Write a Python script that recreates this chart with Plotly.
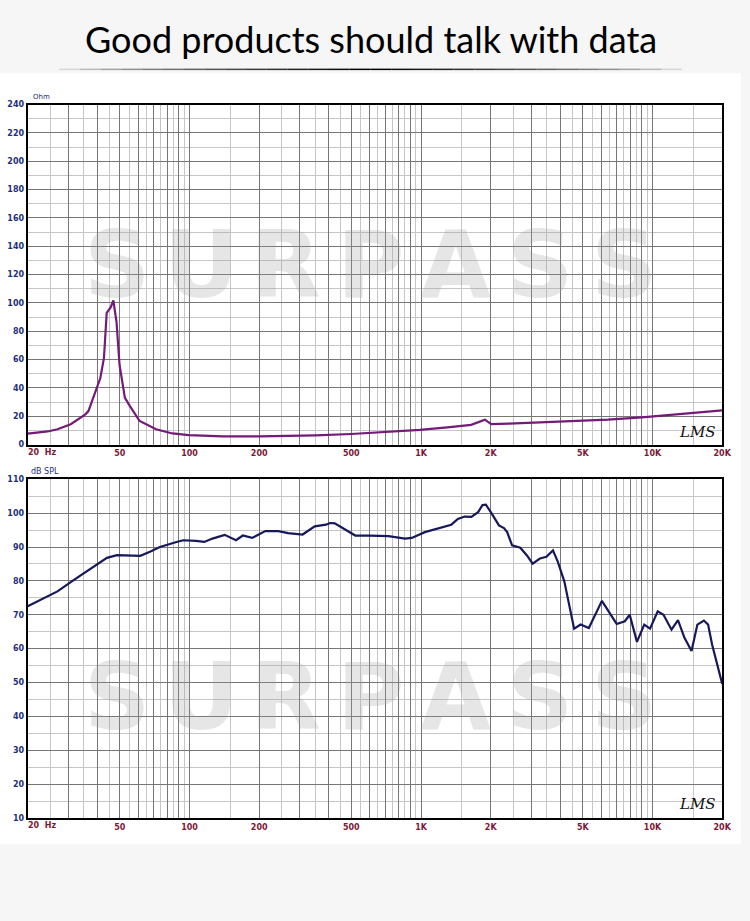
import numpy as np
import plotly.graph_objects as go

# ---------------- data ----------------
imp_freq = [20, 24.4, 26.9, 30.7, 35.5, 36.6, 41.2, 42.7, 43.9, 45.7, 46.9, 48.4, 49.9,
            52.6, 55.3, 60.9, 71.7, 84.4, 99.4, 139, 200, 272, 350, 500, 700, 988,
            1300, 1646, 1888, 2010, 2400, 3250, 4500, 6415, 9000, 12660, 20000]
imp_ohm = [7.8, 9.3, 10.9, 14.4, 21.4, 23.7, 47, 61, 93, 97, 101.7, 86.5, 56,
           33, 27.2, 16.7, 10.9, 7.9, 6.7, 5.9, 5.8, 5.9, 6.5, 7.5, 8.8, 10.4,
           12.2, 14.0, 17.6, 14.5, 14.8, 15.7, 16.6, 17.6, 19.3, 21.2, 24.2]

spl_freq = [20, 22.9, 26.9, 31.7, 37.4, 44, 48.6, 51.9, 61.3, 67.5, 74.5, 87.9, 93.9,
            106.7, 115.9, 125.6, 141.9, 158.9, 169.9, 186.4, 212.5, 242, 266.6, 308,
            347.5, 388.5, 405, 424, 452, 520, 600, 724, 853, 912, 1039, 1224, 1351,
            1443, 1544, 1650, 1764, 1843, 1906, 2002, 2171, 2281, 2356, 2474, 2684,
            2862, 3036, 3262, 3480, 3715, 3900, 4161, 4370, 4585, 4889, 5308, 6043,
            6553, 7000, 7593, 7970, 8565, 9210, 9756, 10530, 11150, 12080, 12880,
            13740, 14740, 15620, 16670, 17380, 18070, 20000]
spl_db = [72.5, 74.4, 76.9, 80.3, 83.7, 86.8, 87.6, 87.6, 87.4, 88.6, 90.0, 91.5, 92.0,
          91.8, 91.5, 92.5, 93.6, 92.0, 93.4, 92.7, 94.7, 94.7, 94.1, 93.7,
          96.1, 96.6, 97.1, 97.0, 95.9, 93.4, 93.4, 93.2, 92.5, 92.7, 94.4, 95.9, 96.6,
          98.3, 99.0, 98.9, 100.3, 102.4, 102.5, 100.3, 96.4, 95.6, 94.4, 90.5, 89.8,
          87.6, 85.1, 86.6, 87.1, 89.0, 85.6, 79.8, 72.9, 65.9, 67.1, 66.1, 74.1,
          70.5, 67.3, 68.1, 70.0, 62.0, 67.1, 65.9, 71.0, 70.0, 65.6, 68.4,
          63.2, 59.3, 67.1, 68.3, 67.1, 61.3, 49.6]

freq_major = [20, 30, 40, 50, 60, 70, 80, 90, 100, 200, 300, 400, 500, 600, 700, 800, 900,
              1000, 2000, 3000, 4000, 5000, 6000, 7000, 8000, 9000, 10000, 20000]
freq_minor = [25, 35, 45, 55, 65, 75, 85, 95, 150, 250, 350, 450, 550, 650, 750, 850, 950,
              1500, 2500, 3500, 4500, 5500, 6500, 7500, 8500, 9500, 15000]
freq_labels = {50: "50", 100: "100", 200: "200", 500: "500", 1000: "1K", 2000: "2K",
               5000: "5K", 10000: "10K", 20000: "20K"}

imp_ticks = list(range(0, 241, 20))
imp_minor = list(range(10, 240, 20))
spl_ticks = list(range(10, 111, 10))
spl_minor = list(range(15, 110, 10))

title_text = "Good products should talk with data"
watermark_text = "SURPASS"

# ---------------- layout helpers ----------------
W, H = 750, 921
def px(x):
    return x / W
def py(y):
    return 1 - y / H

XL, XR = 28, 731
UT, UB = 101.5, 445
LT, LB = 480, 822

MAJ = "#767676"
MIN = "#c6c6c6"
YLAB = "#1d2f7c"
XLAB = "#7d1838"

fig = go.Figure()
fig.add_trace(go.Scatter(x=imp_freq, y=imp_ohm, mode="lines", xaxis="x", yaxis="y",
                         line=dict(color="#741a78", width=2.2), hoverinfo="skip",
                         showlegend=False))
fig.add_trace(go.Scatter(x=spl_freq, y=spl_db, mode="lines", xaxis="x2", yaxis="y2",
                         line=dict(color="#17175c", width=2.2), hoverinfo="skip",
                         showlegend=False))

tickfont_x = dict(family="DejaVu Sans", size=8, color=XLAB, weight="bold")
tickfont_y = dict(family="DejaVu Sans", size=8, color=YLAB, weight="bold")

def xaxis_cfg(anchor):
    return dict(type="log", range=[np.log10(20) - 1e-5, np.log10(20000) + 1e-5],
                domain=[px(XL), px(XR)], anchor=anchor,
                tickmode="array", tickvals=freq_major,
                ticktext=[freq_labels.get(f, "") for f in freq_major],
                showgrid=True, gridcolor=MAJ, gridwidth=1,
                minor=dict(tickmode="array", tickvals=freq_minor, showgrid=True,
                           gridcolor=MIN, gridwidth=1, ticks=""),
                ticks="", showline=True, mirror=True, linecolor="black", linewidth=2,
                tickfont=tickfont_x, zeroline=False, fixedrange=True)

def yaxis_cfg(anchor, rng, ticks, minor, dom):
    return dict(range=rng, domain=dom, anchor=anchor, tickmode="array", tickvals=ticks,
                showgrid=True, gridcolor=MAJ, gridwidth=1,
                minor=dict(tickmode="array", tickvals=minor, showgrid=True,
                           gridcolor=MIN, gridwidth=1, ticks=""),
                ticks="", showline=True, mirror=True, linecolor="black", linewidth=2,
                tickfont=tickfont_y, zeroline=False, fixedrange=True)

wm_font = dict(family="DejaVu Sans", size=92, color="rgba(160,160,160,0.26)", weight="bold")

annotations = [
    dict(text=title_text, x=0.5, y=py(35), xref="paper", yref="paper", showarrow=False,
         font=dict(family="Lato", size=36, color="#000000"), xanchor="center", yanchor="middle"),
    dict(text="Ohm", x=px(31), y=py(94), xref="paper", yref="paper", showarrow=False,
         font=dict(family="DejaVu Sans", size=7, color=YLAB), xanchor="left", yanchor="middle"),
    dict(text="dB SPL", x=px(29), y=py(472), xref="paper", yref="paper", showarrow=False,
         font=dict(family="DejaVu Sans", size=8, color=YLAB), xanchor="left", yanchor="middle"),
    dict(text="20  Hz", x=px(26), y=py(453), xref="paper", yref="paper", showarrow=False,
         font=tickfont_x, xanchor="left", yanchor="middle"),
    dict(text="20  Hz", x=px(26), y=py(830), xref="paper", yref="paper", showarrow=False,
         font=tickfont_x, xanchor="left", yanchor="middle"),
    dict(text="<i>LMS</i>", x=px(706), y=py(432), xref="paper", yref="paper", showarrow=False,
         font=dict(family="DejaVu Serif", size=15, color="#111111"), xanchor="center", yanchor="middle"),
    dict(text="<i>LMS</i>", x=px(706), y=py(808), xref="paper", yref="paper", showarrow=False,
         font=dict(family="DejaVu Serif", size=15, color="#111111"), xanchor="center", yanchor="middle"),
]
# watermark letters, evenly spaced
n_wm = len(watermark_text)
for yc in (264, 700):
    for i, ch in enumerate(watermark_text):
        xc = 118 + i * (632 - 118) / (n_wm - 1)
        annotations.append(dict(text=ch, x=px(xc), y=py(yc), xref="paper", yref="paper",
                                showarrow=False, font=wm_font, xanchor="center", yanchor="middle"))

shapes = [
    dict(type="rect", xref="paper", yref="paper", x0=0, x1=1, y0=py(848), y1=py(70),
         fillcolor="white", line=dict(width=0), layer="below"),
]
# fading underline under the title
n_seg = 30
for i in range(n_seg):
    t0 = i / n_seg
    t1 = (i + 1) / n_seg
    tm = (t0 + t1) / 2
    a = max(0.0, 1 - abs(tm - 0.5) * 2) ** 0.6
    shapes.append(dict(type="line", xref="paper", yref="paper",
                       x0=px(60 + 630 * t0), x1=px(60 + 630 * t1), y0=py(66), y1=py(66),
                       line=dict(color=f"rgba(0,0,0,{a:.3f})", width=1.5)))

fig.update_layout(
    width=W, height=H, margin=dict(l=0, r=0, t=0, b=0),
    paper_bgcolor="#f6f6f6", plot_bgcolor="white",
    xaxis=xaxis_cfg("y"),
    yaxis=yaxis_cfg("x", [0, 240], imp_ticks, imp_minor, [py(UB), py(UT)]),
    xaxis2=xaxis_cfg("y2"),
    yaxis2=yaxis_cfg("x2", [10, 110], spl_ticks, spl_minor, [py(LB), py(LT)]),
    annotations=annotations, shapes=shapes, showlegend=False,
)

fig.write_html("out.html", config={"displayModeBar": False, "staticPlot": True},
               post_script="document.body.style.margin='0';document.body.style.overflow='hidden';")
